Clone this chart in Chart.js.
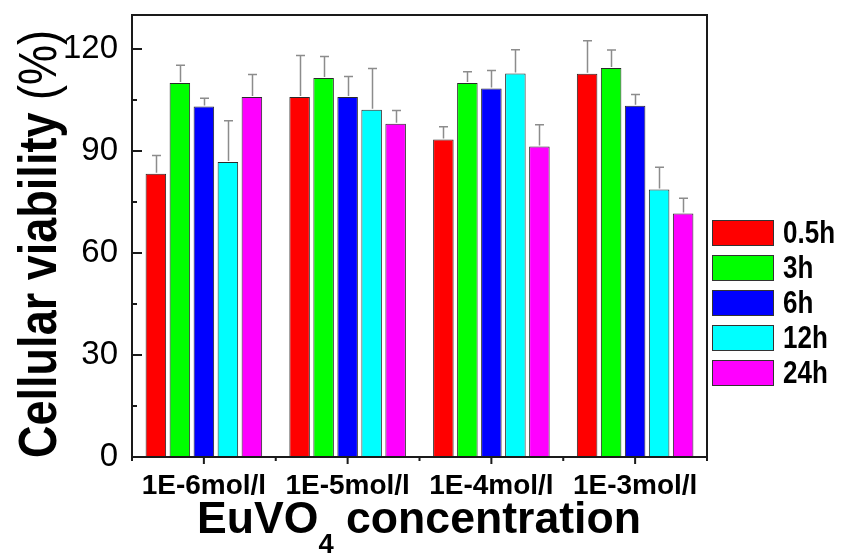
<!DOCTYPE html>
<html><head><meta charset="utf-8">
<script src="https://cdn.jsdelivr.net/npm/chart.js@4/dist/chart.umd.min.js"></script>
<style>html,body{margin:0;padding:0;background:#fff}#wrap{width:843px;height:554px}</style>
</head><body><div id="wrap"><canvas id="c" width="843" height="554"></canvas></div>
<script>
const categories = ['1E-6mol/l','1E-5mol/l','1E-4mol/l','1E-3mol/l'];
const seriesNames = ['0.5h','3h','6h','12h','24h'];
const seriesColors = ['#ff0000','#00ff00','#0000ff','#00ffff','#ff00ff'];
const val05h = [83.3, 105.9, 93.4, 112.7];
const err05h = [5.4, 12.2, 3.7, 9.7];
const val3h = [110.0, 111.5, 110.0, 114.4];
const err3h = [5.2, 6.3, 3.3, 5.3];
const val6h = [103.1, 105.9, 108.4, 103.3];
const err6h = [2.4, 6.0, 5.3, 3.3];
const val12h = [86.8, 102.1, 112.8, 78.7];
const err12h = [12.1, 12.2, 7.0, 6.5];
const val24h = [105.9, 98.0, 91.3, 71.6];
const err24h = [6.6, 3.9, 6.4, 4.5];
const yMajorTicks = [0, 30, 60, 90, 120];
const yMinorTicks = [15, 45, 75, 105];
const yTitleBold = 'Cellular viability';
const yTitleUnit = ' (%)';
const xTitleParts = ['EuVO', '4', ' concentration'];

const values = [val05h, val3h, val6h, val12h, val24h];
const errors = [err05h, err3h, err6h, err12h, err24h];
const FONT = '"Liberation Sans", Arial, sans-serif';

const datasets = seriesNames.map((n, i) => ({
  label: n,
  data: values[i],
  errors: errors[i],
  backgroundColor: seriesColors[i],
  borderColor: '#2a2a2a',
  borderWidth: 1,
  borderSkipped: 'bottom',
  categoryPercentage: 0.835,
  barPercentage: 0.855
}));

const deco = {
  id: 'deco',
  afterDatasetsDraw(chart) {
    const ctx = chart.ctx, y = chart.scales.y;
    ctx.save();
    ctx.strokeStyle = '#8c8c8c';
    ctx.lineWidth = 1.5;
    chart.data.datasets.forEach((ds, i) => {
      const meta = chart.getDatasetMeta(i);
      meta.data.forEach((bar, j) => {
        const v = ds.data[j], e = ds.errors[j];
        const y0 = y.getPixelForValue(v), y1 = y.getPixelForValue(v + e);
        const x = Math.round(bar.x) + 0.5;
        ctx.beginPath();
        ctx.moveTo(x, y0 - 1); ctx.lineTo(x, y1);
        ctx.moveTo(x - 4.5, y1); ctx.lineTo(x + 4.5, y1);
        ctx.stroke();
      });
    });
    ctx.restore();
  },
  afterDraw(chart) {
    const ctx = chart.ctx, a = chart.chartArea, xs = chart.scales.x, ys = chart.scales.y;
    ctx.save();
    ctx.strokeStyle = '#1a1a1a';
    ctx.lineWidth = 2;
    ctx.strokeRect(a.left, a.top, a.right - a.left, a.bottom - a.top);
    ctx.beginPath();
    yMajorTicks.forEach(v => { const p = ys.getPixelForValue(v); ctx.moveTo(a.left, p); ctx.lineTo(a.left + 10, p); });
    yMinorTicks.forEach(v => { const p = ys.getPixelForValue(v); ctx.moveTo(a.left, p); ctx.lineTo(a.left + 5, p); });
    categories.forEach((c, j) => { const p = xs.getPixelForValue(j); ctx.moveTo(p, a.bottom); ctx.lineTo(p, a.bottom + 7); });
    for (let j = 0; j <= categories.length; j++) { const p = xs.getPixelForValue(j - 0.5); ctx.moveTo(p, a.bottom); ctx.lineTo(p, a.bottom + 4); }
    ctx.stroke();

    // legend
    ctx.lineWidth = 1;
    chart.data.datasets.forEach((ds, i) => {
      const top = 220 + 35 * i;
      ctx.fillStyle = ds.backgroundColor;
      ctx.fillRect(712.5, top + 0.5, 61, 25);
      ctx.strokeStyle = '#333';
      ctx.strokeRect(712.5, top + 0.5, 61, 25);
      ctx.save();
      ctx.translate(783, top + 23.3);
      ctx.scale(1, 1.22);
      ctx.fillStyle = '#000';
      ctx.font = 'bold 26px ' + FONT;
      ctx.textBaseline = 'alphabetic';
      ctx.fillText(ds.label, 0, 0);
      ctx.restore();
    });

    // y title
    ctx.save();
    ctx.translate(55.5, 458);
    ctx.rotate(-Math.PI / 2);
    ctx.fillStyle = '#000';
    ctx.textBaseline = 'alphabetic';
    ctx.font = 'bold 53px ' + FONT;
    const w1 = ctx.measureText(yTitleBold).width;
    ctx.font = '53px ' + FONT;
    const w2 = ctx.measureText(yTitleUnit).width;
    ctx.scale(428 / (w1 + w2), 1);
    ctx.font = 'bold 53px ' + FONT;
    ctx.fillText(yTitleBold, 0, 0);
    ctx.font = '53px ' + FONT;
    ctx.fillText(yTitleUnit, w1, 0);
    ctx.restore();

    // x title
    ctx.save();
    ctx.fillStyle = '#000';
    ctx.textBaseline = 'alphabetic';
    const big = 'bold 44px ' + FONT, small = 'bold 27px ' + FONT;
    ctx.font = big; const a1 = ctx.measureText(xTitleParts[0]).width;
    ctx.font = small; const a2 = ctx.measureText(xTitleParts[1]).width;
    ctx.font = big; const a3 = ctx.measureText(xTitleParts[2]).width;
    ctx.translate(197, 0);
    ctx.scale(444 / (a1 + a2 + a3), 1);
    ctx.font = big; ctx.fillText(xTitleParts[0], 0, 533);
    ctx.font = small; ctx.fillText(xTitleParts[1], a1, 553);
    ctx.font = big; ctx.fillText(xTitleParts[2], a1 + a2, 533);
    ctx.restore();

    ctx.restore();
  }
};

new Chart(document.getElementById('c'), {
  type: 'bar',
  data: { labels: categories, datasets },
  options: {
    responsive: false,
    animation: false,
    devicePixelRatio: 1,
    layout: { padding: { left: 0, right: 136, top: 15, bottom: 0 } },
    plugins: { legend: { display: false }, tooltip: { enabled: false } },
    scales: {
      x: {
        offset: true,
        grid: { display: false, drawTicks: false },
        border: { display: false },
        ticks: { color: '#000', font: { family: FONT, size: 28, weight: 'bold' }, padding: 12, maxRotation: 0 },
        afterFit(s) { s.height = 97; s.paddingLeft = 0; s.paddingRight = 0; }
      },
      y: {
        min: 0, max: 130,
        grid: { display: false, drawTicks: false },
        border: { display: false },
        ticks: { color: '#000', font: { family: FONT, size: 33 }, padding: 14 },
        afterBuildTicks(s) { s.ticks = yMajorTicks.map(v => ({ value: v })); },
        afterFit(s) { s.width = 132; s.paddingTop = 0; s.paddingBottom = 0; }
      }
    }
  },
  plugins: [deco]
});
</script></body></html>
